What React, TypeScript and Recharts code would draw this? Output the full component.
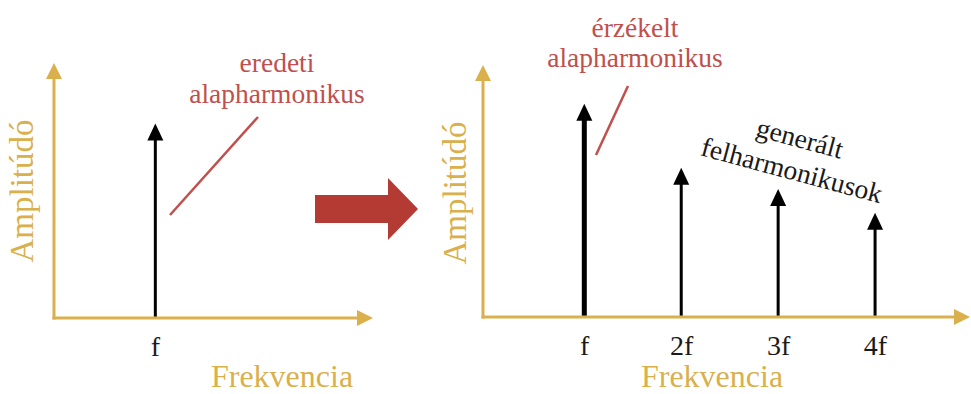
import { BarChart, Bar, XAxis, YAxis } from 'recharts';

// spectrum of the input tone and of the distorted output
const inputLabels = ['f'];
const inputOrder = [1];
const inputAmplitude = [0.81];

const outputLabels = ['f', '2f', '3f', '4f'];
const outputOrder = [1, 2, 3, 4];
const outputAmplitude = [0.9, 0.63, 0.54, 0.44];

const GOLD = '#D9B04C';
const RED = '#C0504D';
const ARROW_RED = '#B43B33';
const FONT = 'Liberation Serif';
const HEAD_LEN = 17;
const HEAD_HALF = 8;

const inputData = inputOrder.map((n, i) => ({
  n,
  label: inputLabels[i],
  amp: inputAmplitude[i],
  bold: false,
}));

const outputData = outputOrder.map((n, i) => ({
  n,
  label: outputLabels[i],
  amp: outputAmplitude[i],
  bold: i === 0,
}));

// vertical spectral line with a filled arrow head on top
const SpectralArrow = (props: any) => {
  const { x, y, width, height, payload } = props;
  const cx = x + width / 2;
  const base = y + height;
  return (
    <g>
      <line
        x1={cx}
        y1={base}
        x2={cx}
        y2={y + HEAD_LEN - 1}
        stroke="#000"
        strokeWidth={payload.bold ? 5 : 3}
      />
      <polygon
        points={`${cx},${y} ${cx - HEAD_HALF},${y + HEAD_LEN} ${cx + HEAD_HALF},${y + HEAD_LEN}`}
        fill="#000"
      />
    </g>
  );
};

const AxisHead = ({ id }: { id: string }) => (
  <defs>
    <marker
      id={id}
      markerUnits="userSpaceOnUse"
      markerWidth={16}
      markerHeight={16}
      refX={1}
      refY={8}
      orient="auto-start-reverse"
    >
      <path d="M0,0 L16,8 L0,16 Z" fill={GOLD} />
    </marker>
  </defs>
);

const tickStyle = { fill: '#1a1a1a', fontSize: 28, fontFamily: FONT };

const Label = ({ x, y, size, color, angle, children }: any) => (
  <text
    x={x}
    y={y}
    transform={angle ? `rotate(${angle} ${x} ${y})` : undefined}
    textAnchor="middle"
    dominantBaseline={angle ? 'central' : undefined}
    fill={color}
    fontSize={size}
    fontFamily={FONT}
  >
    {children}
  </text>
);

export default function App() {
  return (
    <div style={{ position: 'absolute', left: 0, top: 0, width: 971, height: 394, background: '#fff' }}>
      <div style={{ position: 'absolute', left: 0, top: 0 }}>
        <BarChart
          width={420}
          height={394}
          data={inputData}
          margin={{ top: 78, right: 62, bottom: 0, left: 53 }}
        >
          <AxisHead id="headLeft" />
          <XAxis
            dataKey="n"
            type="number"
            domain={[0, 3]}
            ticks={inputOrder}
            tickFormatter={(v: number) => inputLabels[inputOrder.indexOf(v)] ?? ''}
            height={76}
            tickLine={false}
            tickSize={0}
            tickMargin={18}
            tick={tickStyle}
            axisLine={{ stroke: GOLD, strokeWidth: 3, strokeLinecap: 'square', markerEnd: 'url(#headLeft)' }}
          />
          <YAxis
            domain={[0, 1]}
            width={1}
            tick={false}
            tickLine={false}
            axisLine={{ stroke: GOLD, strokeWidth: 3, strokeLinecap: 'square', markerStart: 'url(#headLeft)' }}
          />
          <Bar dataKey="amp" barSize={16} shape={<SpectralArrow />} isAnimationActive={false} />
          <Label x={22} y={191} angle={-90} size={33} color={GOLD}>Amplitúdó</Label>
          <Label x={282} y={387} size={32} color={GOLD}>Frekvencia</Label>
          <Label x={277} y={72} size={27.5} color={RED}>eredeti</Label>
          <Label x={277} y={103} size={27.5} color={RED}>alapharmonikus</Label>
          <line x1={170} y1={215} x2={258} y2={117} stroke={RED} strokeWidth={2.5} />
          {/* block arrow between the two spectra */}
          <polygon
            points="315,195 388,195 388,178 418,209 388,240 388,223 315,223"
            fill={ARROW_RED}
          />
        </BarChart>
      </div>
      <div style={{ position: 'absolute', left: 420, top: 0 }}>
        <BarChart
          width={551}
          height={394}
          data={outputData}
          margin={{ top: 80, right: 16, bottom: 0, left: 62 }}
        >
          <AxisHead id="headRight" />
          <XAxis
            dataKey="n"
            type="number"
            domain={[-0.05, 4.82]}
            ticks={outputOrder}
            interval={0}
            tickFormatter={(v: number) => outputLabels[outputOrder.indexOf(v)] ?? ''}
            height={77}
            tickLine={false}
            tickSize={0}
            tickMargin={18}
            tick={tickStyle}
            axisLine={{ stroke: GOLD, strokeWidth: 3, strokeLinecap: 'square', markerEnd: 'url(#headRight)' }}
          />
          <YAxis
            domain={[0, 1]}
            width={1}
            tick={false}
            tickLine={false}
            axisLine={{ stroke: GOLD, strokeWidth: 3, strokeLinecap: 'square', markerStart: 'url(#headRight)' }}
          />
          <Bar dataKey="amp" barSize={16} shape={<SpectralArrow />} isAnimationActive={false} />
          <Label x={35} y={193} angle={-90} size={33} color={GOLD}>Amplitúdó</Label>
          <Label x={292} y={387} size={32} color={GOLD}>Frekvencia</Label>
          <Label x={215} y={37} size={27.5} color={RED}>érzékelt</Label>
          <Label x={215} y={67} size={27.5} color={RED}>alapharmonikus</Label>
          <line x1={176} y1={155} x2={208} y2={86} stroke={RED} strokeWidth={2.5} />
          <Label x={380} y={138} angle={15} size={27.5} color="#1a1a1a">generált</Label>
          <Label x={372} y={170} angle={15} size={27.5} color="#1a1a1a">felharmonikusok</Label>
        </BarChart>
      </div>
    </div>
  );
}
